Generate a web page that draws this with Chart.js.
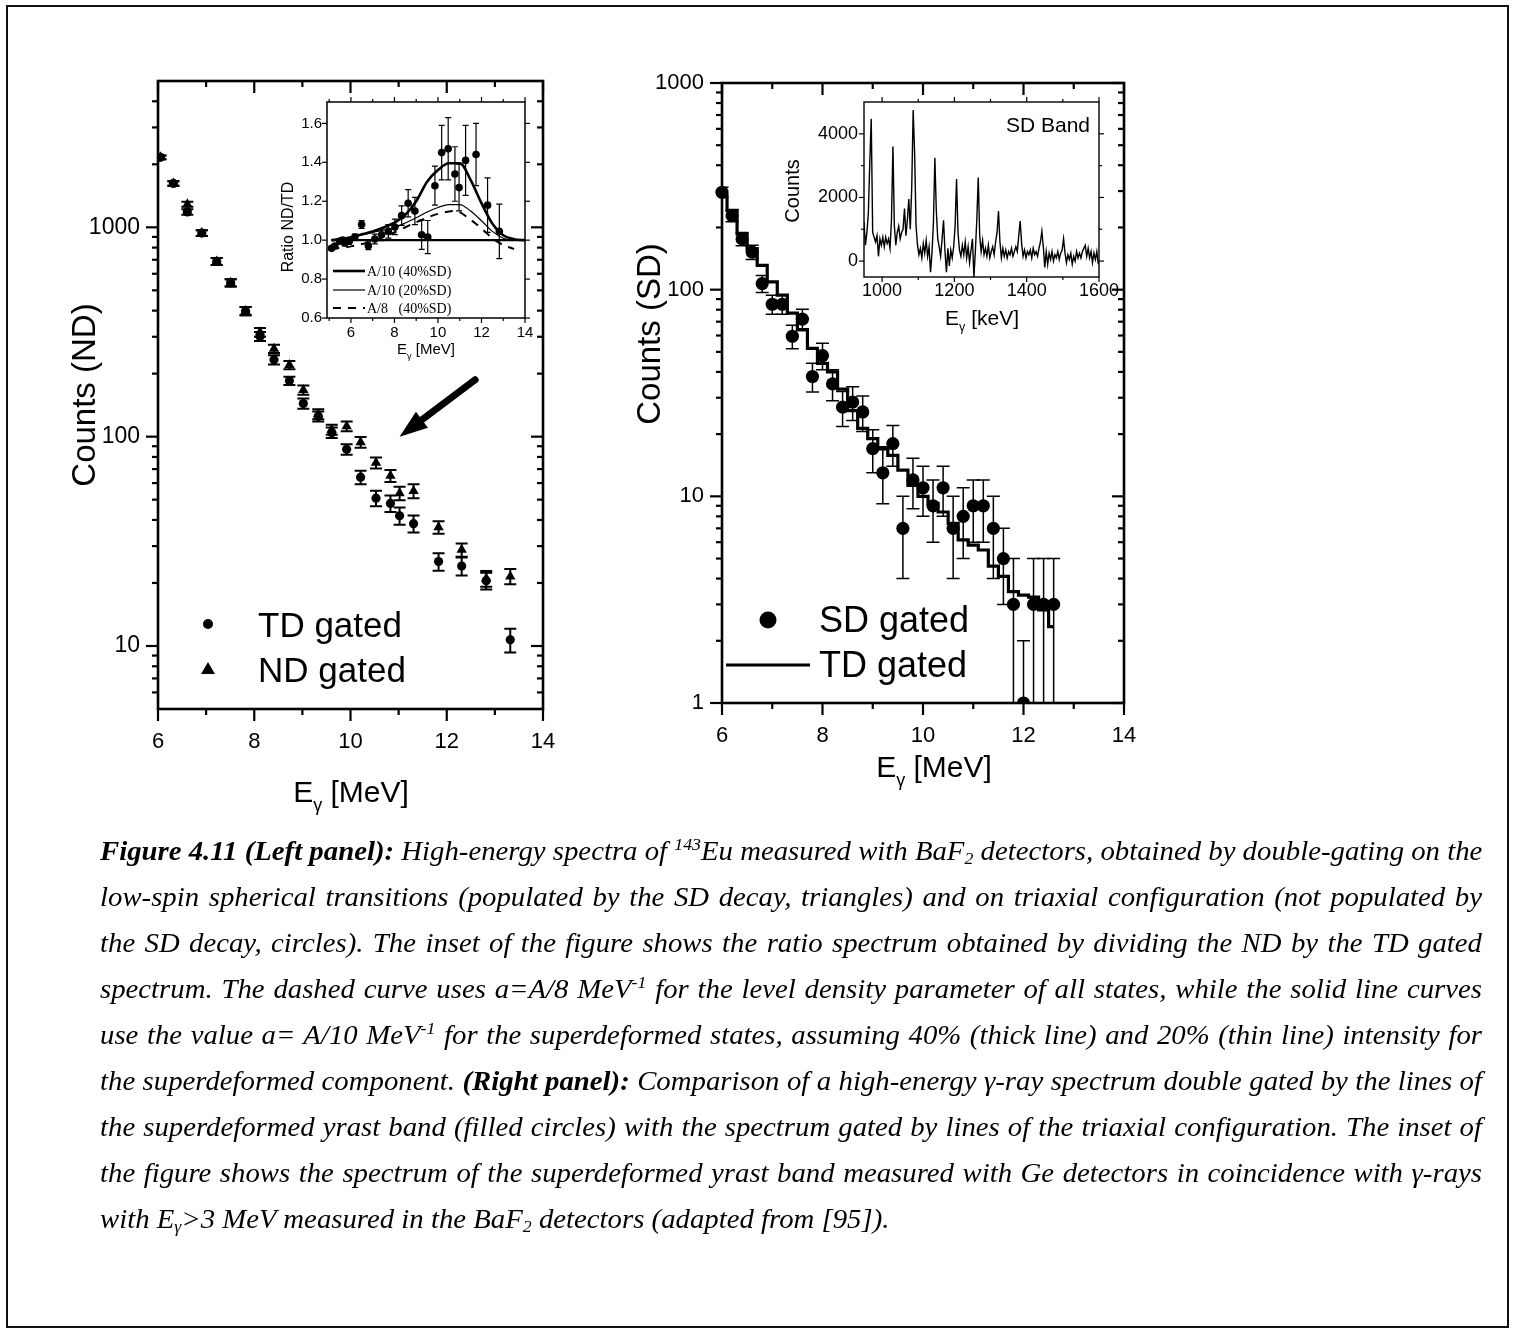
<!DOCTYPE html>
<html>
<head>
<meta charset="utf-8">
<title>143Eu high-energy spectra</title>
<script src="https://cdn.jsdelivr.net/npm/chart.js@4.4.1/dist/chart.umd.min.js"></script>
<style>
html, body { margin: 0; padding: 0; background: #fff; }
#page { position: relative; width: 1515px; height: 1334px; overflow: hidden; background: #fff; }
#page canvas { position: absolute; left: 0; top: 0; }
#frame { position: absolute; left: 6px; top: 5px; width: 1499px; height: 1319px; border: 2px solid #111; }
#caption { position: absolute; left: 100px; top: 0; transform-origin: 0 0; font-family: "Liberation Serif", "Times New Roman", serif; font-style: italic; font-size: 28px; color: #000; }
.ln { position: absolute; left: 0; height: 46px; line-height: 46px; white-space: nowrap; text-align: justify; text-align-last: justify; }
.ln.last { text-align: left; text-align-last: left; }
sup, sub { font-size: 62%; line-height: 0; }
sup { vertical-align: 0.6em; }
sub { vertical-align: -0.25em; }
</style>
</head>
<body>
<div id="page">
  <canvas id="leftMain" width="1515" height="1334"></canvas>
  <canvas id="leftInset" width="1515" height="1334"></canvas>
  <canvas id="rightMain" width="1515" height="1334"></canvas>
  <canvas id="rightInset" width="1515" height="1334"></canvas>
  <div id="caption">
    <div class="ln"><b>Figure 4.11 (Left panel):</b> High-energy spectra of <sup>143</sup>Eu measured with BaF<sub>2</sub> detectors, obtained by double-gating on the</div>
    <div class="ln">low-spin spherical transitions (populated by the SD decay, triangles) and on triaxial configuration (not populated by</div>
    <div class="ln">the SD decay, circles). The inset of the figure shows the ratio spectrum obtained by dividing the ND by the TD gated</div>
    <div class="ln">spectrum. The dashed curve uses a=A/8 MeV<sup>-1</sup> for the level density parameter of all states, while the solid line curves</div>
    <div class="ln">use the value a= A/10 MeV<sup>-1</sup> for the superdeformed states, assuming 40% (thick line) and 20% (thin line) intensity for</div>
    <div class="ln">the superdeformed component. <b>(Right panel):</b> Comparison of a high-energy γ-ray spectrum double gated by the lines of</div>
    <div class="ln">the superdeformed yrast band (filled circles) with the spectrum gated by lines of the triaxial configuration. The inset of</div>
    <div class="ln">the figure shows the spectrum of the superdeformed yrast band measured with Ge detectors in coincidence with γ-rays</div>
    <div class="ln last">with E<sub>γ</sub>&gt;3 MeV measured in the BaF<sub>2</sub> detectors (adapted from [95]).</div>
  </div>
  <div id="frame"></div>
</div>
<script>
// ---- left panel: ND and TD gated spectra ----
const ndtdX = [6.05, 6.32, 6.61, 6.91, 7.22, 7.51, 7.82, 8.12, 8.41, 8.73, 9.02, 9.33, 9.61, 9.92, 10.21, 10.53, 10.83, 11.02, 11.31, 11.83, 12.31, 12.82, 13.32];
const tdCounts = [2160, 1620, 1184, 939, 687, 543, 398, 301, 233, 185, 144, 125, 104.5, 87, 64, 50.8, 48, 41.9, 38.4, 25.3, 24.1, 20.5, 10.7];
const tdErr = [45, 40, 35, 30, 26, 22, 18, 15, 12, 8.5, 8, 7, 6, 5, 4.7, 4.3, 4.3, 4, 3.6, 2.4, 2.4, 1.9, 1.4];
const ndCounts = [2160, 1620, 1290, 939, 687, 543, 398, 315, 263, 220, 167, 128, 108, 112, 94, 75, 65, 53.7, 55, 36.9, 28.8, 21, 21.5];
const ndErr = [45, 40, 36, 30, 26, 22, 18, 15, 12, 10, 8.5, 7, 6, 6, 5.5, 4.5, 4.3, 4, 4.2, 2.5, 2.1, 1.8, 1.8];

// ---- left inset: ratio ND/TD and model curves ----
const ratioX = [5.11, 5.26, 5.49, 5.62, 5.72, 5.92, 6.18, 6.49, 6.80, 7.10, 7.41, 7.72, 8.02, 8.33, 8.63, 8.94, 9.25, 9.53, 9.86, 10.17, 10.47, 10.78, 10.97, 11.27, 11.75, 12.28, 12.82];
const ratioY = [0.958, 0.97, 0.995, 1.0, 0.986, 0.995, 1.016, 1.08, 0.971, 1.006, 1.028, 1.045, 1.068, 1.126, 1.19, 1.15, 1.028, 1.016, 1.28, 1.45, 1.47, 1.34, 1.27, 1.41, 1.44, 1.18, 1.045];
const ratioErr = [0.01, 0.01, 0.012, 0.012, 0.015, 0.015, 0.015, 0.02, 0.02, 0.025, 0.03, 0.035, 0.04, 0.05, 0.07, 0.07, 0.075, 0.085, 0.1, 0.14, 0.16, 0.14, 0.12, 0.18, 0.16, 0.14, 0.14];
const thickX = [5.1, 5.5, 6, 6.5, 7, 7.5, 8, 8.5, 9, 9.5, 10, 10.5, 11, 11.5, 12, 12.5, 13, 13.5, 14];
const thickY = [1.0, 1.005, 1.015, 1.03, 1.045, 1.065, 1.09, 1.13, 1.2, 1.3, 1.36, 1.395, 1.395, 1.31, 1.19, 1.085, 1.025, 1.005, 1.0];
const thinX = [5.1, 6, 7, 8, 8.5, 9, 9.5, 10, 10.5, 11, 11.5, 12, 12.5, 13, 13.5, 14];
const thinY = [1.0, 1.015, 1.04, 1.065, 1.088, 1.115, 1.145, 1.168, 1.183, 1.183, 1.15, 1.1, 1.045, 1.01, 1.0, 1.0];
const dashX = [5.1, 6, 7, 8, 9, 10, 10.8, 11.5, 12, 12.5, 13, 13.5];
const dashY = [0.955, 0.968, 0.995, 1.04, 1.092, 1.135, 1.15, 1.105, 1.06, 1.01, 0.975, 0.955];
const unityX = [5.1, 14];
const unityY = [1.0, 1.0];

// ---- right panel: SD gated points and TD gated histogram ----
const sdX = [6.0, 6.2, 6.4, 6.6, 6.8, 7.0, 7.2, 7.4, 7.6, 7.8, 8.0, 8.2, 8.4, 8.6, 8.8, 9.0, 9.2, 9.4, 9.6, 9.8, 10.0, 10.2, 10.4, 10.6, 10.8, 11.0, 11.2, 11.4, 11.6, 11.8, 12.0, 12.2, 12.4, 12.6];
const sdCounts = [296, 228, 176, 152, 107, 85, 85, 59.5, 72, 38, 48, 35, 27, 28.6, 25.6, 17, 13, 18, 7, 12, 11, 9, 11, 7, 8, 9, 9, 7, 5, 3, 1, 3, 3, 3];
const sdErr = [17, 15, 13, 12, 10, 9, 9, 7.7, 8.5, 6, 7, 6, 5.2, 5.3, 5, 4, 3.8, 4, 3, 3.3, 3, 3, 3, 3, 3, 3, 3, 3, 2, 2, 1, 2, 2, 2];
const tdHist = [285, 242, 186, 158, 131, 109, 94, 77, 64, 52, 44, 40, 33, 26, 21.3, 19, 17.2, 15.8, 13.4, 11.3, 10, 9.25, 8.4, 7.4, 6.15, 5.8, 5.5, 4.6, 4.1, 3.46, 3.33, 3.25, 2.82, 2.34];

// ---- right inset: SD band Ge spectrum, 4 keV bins from 950 keV ----
const sbStart = 950, sbBin = 4;
const sbCounts = [
  1230, 500, 900, 1500, 3100, 4470, 900, 750, 600, 800,
  150, 700, 500, 750, 450, 750, 550, 700, 400, 1300,
  3600, 1100, 500, 900, 1100, 700, 900, 1000, 1650, 800,
  1300, 1950, 1000, 2300, 4750, 3400, 1100, 500, 200, 400,
  100, 550, 250, 650, 150, 450, -350, 250, 1200, 3250,
  1600, 700, 450, 150, 700, 1280, 300, -350, 400, -150,
  350, 100, 450, 1100, 2580, 900, 350, 150, 500, 200,
  600, 100, 450, -50, 350, 700, -500, 300, 1300, 2630,
  800, 300, 650, 200, 400, 150, 500, 100, 300, 450,
  200, 600, 900, 1570, 600, 100, 400, 150, 350, 100,
  300, 200, 400, 150, 300, 450, 300, 800, 1260, 550,
  150, 350, 100, 300, 200, 350, 100, 400, 200, 300,
  150, 400, 600, 940, 450, -200, 300, -100, 250, 50,
  300, 0, 200, 100, 300, 50, 250, 350, 705, 250,
  -50, 200, 50, 250, -100, 150, 0, 300, 100, 250,
  100, 300, 400, 495, 150, 400, 100, 300, -50, 250,
  50, 300, -100
];

// ---- tick values ----
const mainXMajor = [6, 8, 10, 12, 14];
const mainXMinor = [7, 9, 11, 13];
const leftYLabels = [10, 100, 1000];
const rightYLabels = [1, 10, 100, 1000];
const ratioXMajor = [6, 8, 10, 12, 14];
const ratioXMinor = [5, 7, 9, 11, 13];
const ratioYMajor = [0.6, 0.8, 1.0, 1.2, 1.4, 1.6];
const sbXMajor = [1000, 1200, 1400, 1600];
const sbXMinor = [1100, 1300, 1500];
const sbYMajor = [0, 2000, 4000];
const sbYMinor = [1000, 3000];

const W = 1515, H = 1334;
const SANS = '"Liberation Sans", Arial, sans-serif';
const SERIF = '"Liberation Serif", "Times New Roman", serif';
Chart.defaults.font.family = SANS;
Chart.defaults.color = '#000';

function pts(xs, ys) { return xs.map((x, i) => ({x: x, y: ys[i]})); }

function logMinors(min, max) {
  const out = [];
  for (let d = 1; d <= max; d *= 10)
    for (let k = 2; k <= 9; k++)
      if (k * d > min && k * d < max) out.push(k * d);
  return out;
}

function marker(ctx, style, x, y, r) {
  ctx.beginPath();
  if (style === 'triangle') {
    ctx.moveTo(x, y - r);
    ctx.lineTo(x + r * 0.866, y + r / 2);
    ctx.lineTo(x - r * 0.866, y + r / 2);
    ctx.closePath();
  } else {
    ctx.arc(x, y, r, 0, Math.PI * 2);
  }
  ctx.fill();
}

// text with an optional subscript part, y is the baseline
function richText(ctx, it) {
  const parts = Array.isArray(it.text) ? it.text : [{t: it.text}];
  const fam = it.family || SANS;
  let w = 0;
  parts.forEach(p => {
    ctx.font = (p.sub ? it.size * 0.6 : it.size) + 'px ' + fam;
    p.w = ctx.measureText(p.t).width;
    w += p.w;
  });
  ctx.save();
  ctx.translate(it.x, it.y);
  if (it.rot) ctx.rotate(it.rot);
  let x0 = it.align === 'left' ? 0 : it.align === 'right' ? -w : -w / 2;
  ctx.textAlign = 'left';
  ctx.textBaseline = 'alphabetic';
  ctx.fillStyle = '#000';
  parts.forEach(p => {
    ctx.font = (p.sub ? it.size * 0.6 : it.size) + 'px ' + fam;
    ctx.fillText(p.t, x0, p.sub ? it.size * 0.3 : 0);
    x0 += p.w;
  });
  ctx.restore();
}

const decoConfigs = {};

const decoPlugin = {
  id: 'deco',
  beforeDraw(chart) {
    const d = decoConfigs[chart.canvas.id];
    if (!d || !d.fill) return;
    const a = chart.chartArea, ctx = chart.ctx;
    ctx.save();
    ctx.fillStyle = d.fill;
    ctx.fillRect(a.left, a.top, a.right - a.left, a.bottom - a.top);
    ctx.restore();
  },
  beforeDatasetsDraw(chart) {
    const d = decoConfigs[chart.canvas.id];
    if (!d || !d.errors) return;
    const a = chart.chartArea, ctx = chart.ctx, xs = chart.scales.x, ys = chart.scales.y;
    ctx.save();
    ctx.beginPath();
    ctx.rect(a.left, a.top, a.right - a.left, a.bottom - a.top);
    ctx.clip();
    ctx.strokeStyle = '#000';
    d.errors.forEach(e => {
      ctx.lineWidth = e.width;
      chart.data.datasets[e.dataset].data.forEach((p, i) => {
        const err = e.err[i];
        if (!err) return;
        const px = xs.getPixelForValue(p.x);
        const top = ys.getPixelForValue(p.y + err);
        const lo = p.y - err;
        const bot = (lo > 0 || ys.type !== 'logarithmic') ? ys.getPixelForValue(lo) : a.bottom + 20;
        ctx.beginPath();
        ctx.moveTo(px, top); ctx.lineTo(px, bot);
        ctx.moveTo(px - e.cap, top); ctx.lineTo(px + e.cap, top);
        ctx.moveTo(px - e.cap, bot); ctx.lineTo(px + e.cap, bot);
        ctx.stroke();
      });
    });
    ctx.restore();
  },
  afterDraw(chart) {
    const d = decoConfigs[chart.canvas.id];
    if (!d) return;
    const a = chart.chartArea, ctx = chart.ctx, xs = chart.scales.x, ys = chart.scales.y;
    ctx.save();
    ctx.strokeStyle = '#000';
    ctx.fillStyle = '#000';

    // ticks on all four sides
    const f = d.frame;
    ctx.lineWidth = f.tickWidth;
    const sides = [
      [xs, a.bottom, f.out.bottom ? 1 : -1, true],
      [xs, a.top, f.out.top ? -1 : 1, true],
      [ys, a.left, f.out.left ? -1 : 1, false],
      [ys, a.right, f.out.right ? 1 : -1, false]
    ];
    sides.forEach(([sc, pos, dir, horiz]) => {
      const ax = horiz ? f.x : f.y;
      [[ax.major, f.len[0]], [ax.minor, f.len[1]]].forEach(([vals, len]) => {
        vals.forEach(v => {
          const p = sc.getPixelForValue(v);
          ctx.beginPath();
          if (horiz) { ctx.moveTo(p, pos); ctx.lineTo(p, pos + dir * len); }
          else { ctx.moveTo(pos, p); ctx.lineTo(pos + dir * len, p); }
          ctx.stroke();
        });
      });
    });
    ctx.lineWidth = f.width;
    ctx.strokeRect(a.left, a.top, a.right - a.left, a.bottom - a.top);

    // arrow given in data coordinates
    if (d.arrow) {
      const A = d.arrow;
      const x1 = xs.getPixelForValue(A.from[0]), y1 = ys.getPixelForValue(A.from[1]);
      const x2 = xs.getPixelForValue(A.to[0]), y2 = ys.getPixelForValue(A.to[1]);
      const ang = Math.atan2(y2 - y1, x2 - x1);
      const bx = x2 - Math.cos(ang) * A.headLen, by = y2 - Math.sin(ang) * A.headLen;
      ctx.lineWidth = A.width;
      ctx.lineCap = 'round';
      ctx.beginPath(); ctx.moveTo(x1, y1); ctx.lineTo(bx, by); ctx.stroke();
      ctx.beginPath();
      ctx.moveTo(x2, y2);
      ctx.lineTo(bx + Math.sin(ang) * A.headHalf, by - Math.cos(ang) * A.headHalf);
      ctx.lineTo(bx - Math.sin(ang) * A.headHalf, by + Math.cos(ang) * A.headHalf);
      ctx.closePath();
      ctx.fill();
      ctx.lineCap = 'butt';
    }

    // legend symbols
    (d.keys || []).forEach(k => {
      if (k.type === 'line') {
        ctx.lineWidth = k.width;
        ctx.setLineDash(k.dash || []);
        ctx.beginPath(); ctx.moveTo(k.x1, k.y); ctx.lineTo(k.x2, k.y); ctx.stroke();
        ctx.setLineDash([]);
      } else {
        marker(ctx, k.type, k.x, k.y, k.r);
      }
    });
    (d.texts || []).forEach(t => richText(ctx, t));
    ctx.restore();
  }
};
Chart.register(decoPlugin);

function axis(type, min, max, labels, fmt, size, pad) {
  return {
    type: type, min: min, max: max,
    grid: {display: false, drawTicks: false},
    border: {display: false},
    ticks: {autoSkip: false, maxRotation: 0, minRotation: 0, padding: pad, color: '#000',
            font: {family: SANS, size: size}, callback: fmt},
    afterBuildTicks: s => { s.ticks = labels.map(v => ({value: v})); }
  };
}

function makeChart(id, box, scales, datasets, deco) {
  decoConfigs[id] = deco;
  scales.y.afterFit = s => { s.width = box.l; };
  scales.x.afterFit = s => { s.height = H - box.b; };
  return new Chart(document.getElementById(id), {
    type: 'line',
    data: {datasets: datasets},
    options: {
      responsive: false,
      animation: false,
      events: [],
      layout: {padding: {left: 0, top: box.t, right: W - box.r, bottom: 0}},
      scales: scales,
      plugins: {legend: {display: false}, tooltip: {enabled: false}}
    }
  });
}

const intLabel = v => String(v);
const GAMMA = [{t: 'E'}, {t: 'γ', sub: true}];

// left main panel
makeChart('leftMain', {l: 158, t: 81, r: 543, b: 709}, {
  x: axis('linear', 6, 14, mainXMajor, intLabel, 22, 20),
  y: axis('logarithmic', 5, 5000, leftYLabels, intLabel, 23, 18)
}, [
  {data: pts(ndtdX, tdCounts), showLine: false, pointStyle: 'circle', pointRadius: 4.6,
   pointBackgroundColor: '#000', pointBorderWidth: 0, borderColor: '#000'},
  {data: pts(ndtdX, ndCounts), showLine: false, pointStyle: 'triangle', pointRadius: 6,
   pointBackgroundColor: '#000', pointBorderWidth: 0, borderColor: '#000'}
], {
  frame: {width: 2.6, tickWidth: 2.2, len: [12, 6],
          x: {major: mainXMajor, minor: mainXMinor},
          y: {major: leftYLabels, minor: logMinors(5, 5000)},
          out: {left: true, bottom: true, top: false, right: false}},
  errors: [{dataset: 1, err: ndErr, width: 2, cap: 6}, {dataset: 0, err: tdErr, width: 2, cap: 6}],
  arrow: {from: [12.59, 187], to: [11.02, 100], width: 7, headLen: 28, headHalf: 10},
  keys: [{type: 'circle', x: 208, y: 624, r: 5}, {type: 'triangle', x: 208, y: 670, r: 8}],
  texts: [
    {text: 'Counts (ND)', x: 95, y: 395, rot: -Math.PI / 2, size: 33},
    {text: GAMMA.concat([{t: ' [MeV]'}]), x: 351, y: 802, size: 30},
    {text: 'TD gated', x: 258, y: 637, size: 35, align: 'left'},
    {text: 'ND gated', x: 258, y: 682, size: 35, align: 'left'}
  ]
});

// left inset: ratio
makeChart('leftInset', {l: 327, t: 102, r: 525, b: 318}, {
  x: axis('linear', 4.9, 14, ratioXMajor, intLabel, 15, 6),
  y: axis('linear', 0.6, 1.71, ratioYMajor, v => v.toFixed(1), 15, 5)
}, [
  {data: pts(ratioX, ratioY), showLine: false, pointStyle: 'circle', pointRadius: 3.8,
   pointBackgroundColor: '#000', pointBorderWidth: 0, borderColor: '#000'},
  {data: pts(thickX, thickY), borderColor: '#000', borderWidth: 2.6, pointRadius: 0, cubicInterpolationMode: 'monotone'},
  {data: pts(thinX, thinY), borderColor: '#000', borderWidth: 1.2, pointRadius: 0, cubicInterpolationMode: 'monotone'},
  {data: pts(dashX, dashY), borderColor: '#000', borderWidth: 2, borderDash: [8, 7], pointRadius: 0, cubicInterpolationMode: 'monotone'},
  {data: pts(unityX, unityY), borderColor: '#000', borderWidth: 2.4, pointRadius: 0}
], {
  fill: '#fff',
  frame: {width: 1.5, tickWidth: 1.2, len: [5, 3],
          x: {major: ratioXMajor, minor: ratioXMinor},
          y: {major: ratioYMajor, minor: []},
          out: {left: true, bottom: true, top: true, right: true}},
  errors: [{dataset: 0, err: ratioErr, width: 1.2, cap: 3}],
  keys: [
    {type: 'line', x1: 333, x2: 365, y: 271, width: 2.6},
    {type: 'line', x1: 333, x2: 365, y: 290, width: 1.2},
    {type: 'line', x1: 333, x2: 365, y: 308, width: 2, dash: [8, 7]}
  ],
  texts: [
    {text: 'Ratio ND/TD', x: 293, y: 227, rot: -Math.PI / 2, size: 16},
    {text: GAMMA.concat([{t: ' [MeV]'}]), x: 426, y: 354, size: 15},
    {text: 'A/10 (40%SD)', x: 367, y: 276, size: 14, align: 'left', family: SERIF},
    {text: 'A/10 (20%SD)', x: 367, y: 295, size: 14, align: 'left', family: SERIF},
    {text: 'A/8   (40%SD)', x: 367, y: 313, size: 14, align: 'left', family: SERIF}
  ]
});

// right main panel
makeChart('rightMain', {l: 722, t: 83, r: 1124, b: 703}, {
  x: axis('linear', 6, 14, mainXMajor, intLabel, 22, 20),
  y: axis('logarithmic', 1, 1000, rightYLabels, intLabel, 22, 18)
}, [
  {data: pts(sdX, sdCounts), showLine: false, pointStyle: 'circle', pointRadius: 6.6,
   pointBackgroundColor: '#000', pointBorderWidth: 0, borderColor: '#000',
   clip: {left: 8, top: 8, right: 8, bottom: 0}},
  {data: pts(sdX, tdHist), stepped: 'middle', borderColor: '#000', borderWidth: 3.2, pointRadius: 0}
], {
  frame: {width: 2.6, tickWidth: 2.2, len: [12, 6],
          x: {major: mainXMajor, minor: mainXMinor},
          y: {major: rightYLabels, minor: logMinors(1, 1000)},
          out: {left: true, bottom: true, top: false, right: false}},
  errors: [{dataset: 0, err: sdErr, width: 1.5, cap: 6.5}],
  keys: [{type: 'circle', x: 768, y: 620, r: 8.5}, {type: 'line', x1: 726, x2: 810, y: 665, width: 3.2}],
  texts: [
    {text: 'Counts (SD)', x: 660, y: 334, rot: -Math.PI / 2, size: 33},
    {text: GAMMA.concat([{t: ' [MeV]'}]), x: 934, y: 777, size: 30},
    {text: 'SD gated', x: 819, y: 632, size: 36, align: 'left'},
    {text: 'TD gated', x: 819, y: 677, size: 36, align: 'left'}
  ]
});

// right inset: SD band spectrum
makeChart('rightInset', {l: 864, t: 102, r: 1099, b: 277}, {
  x: axis('linear', 950, 1600, sbXMajor, intLabel, 18, 3),
  y: axis('linear', -500, 5000, sbYMajor, intLabel, 18, 6)
}, [
  {data: sbCounts.map((c, i) => ({x: sbStart + sbBin * i, y: c})), borderColor: '#000', borderWidth: 1.4, pointRadius: 0}
], {
  fill: '#fff',
  frame: {width: 1.4, tickWidth: 1.2, len: [5, 3],
          x: {major: sbXMajor, minor: sbXMinor},
          y: {major: sbYMajor, minor: sbYMinor},
          out: {left: true, bottom: true, top: true, right: true}},
  texts: [
    {text: 'Counts', x: 799, y: 191, rot: -Math.PI / 2, size: 20},
    {text: GAMMA.concat([{t: ' [keV]'}]), x: 982, y: 325, size: 21},
    {text: 'SD Band', x: 1090, y: 132, size: 21, align: 'right'}
  ]
});

// caption: justified lines with a common horizontal condensing
(function layoutCaption() {
  const cap = document.getElementById('caption');
  const lines = Array.from(cap.querySelectorAll('.ln'));
  const target = 1382, first = 851, gap = 46;
  let maxW = 0;
  lines.forEach(l => { if (!l.classList.contains('last')) maxW = Math.max(maxW, l.offsetWidth); });
  const s = Math.min(1.05, target / maxW);
  cap.style.transform = 'scaleX(' + s + ')';
  lines.forEach((l, i) => {
    l.style.top = (first + i * gap - 23) + 'px';
    if (!l.classList.contains('last')) l.style.width = (target / s) + 'px';
  });
})();
</script>
</body>
</html>
